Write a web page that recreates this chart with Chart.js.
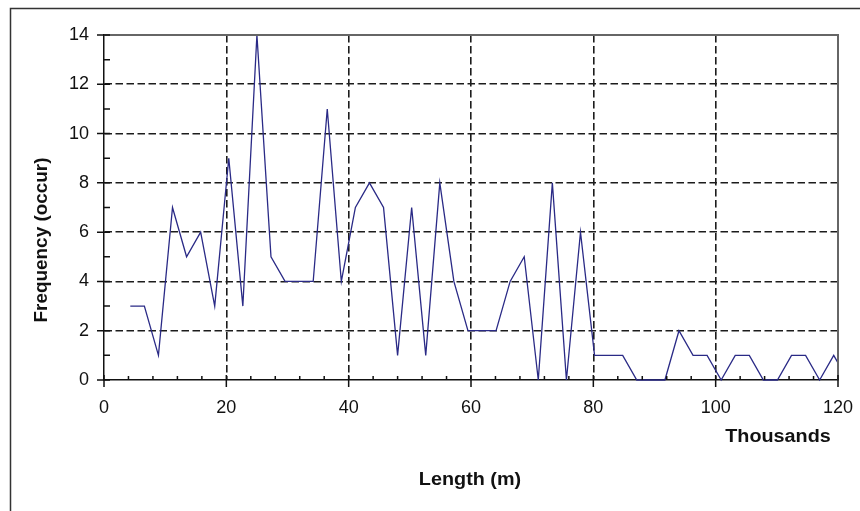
<!DOCTYPE html>
<html>
<head>
<meta charset="utf-8">
<script src="https://cdn.jsdelivr.net/npm/chart.js@4/dist/chart.umd.min.js"></script>
<style>
html,body{margin:0;padding:0;background:#fff;}
#wrap{position:relative;width:860px;height:511px;overflow:hidden;background:#fff;}
canvas{display:block;}
</style>
</head>
<body>
<div id="wrap"><canvas id="c" width="860" height="511"></canvas></div>
<script>
// Length in thousands of metres (bin positions)
const lengthThousands = [4.3, 6.6, 8.9, 11.2, 13.5, 15.8, 18.1, 20.4, 22.7, 25.0,
  27.3, 29.6, 31.9, 34.2, 36.5, 38.8, 41.1, 43.4, 45.7, 48.0,
  50.3, 52.6, 54.9, 57.2, 59.5, 61.8, 64.1, 66.4, 68.7, 71.0,
  73.3, 75.6, 77.9, 80.2, 82.5, 84.8, 87.1, 89.4, 91.7, 94.0,
  96.3, 98.6, 100.9, 103.2, 105.5, 107.8, 110.1, 112.4, 114.7, 117.0,
  119.3, 121.6];
// Frequency (occurrences)
const frequency = [3, 3, 1, 7, 5, 6, 3, 9, 3, 14,
  5, 4, 4, 4, 11, 4, 7, 8, 7, 1,
  7, 1, 8, 4, 2, 2, 2, 4, 5, 0,
  8, 0, 6, 1, 1, 1, 0, 0, 0, 2,
  1, 1, 0, 1, 1, 0, 0, 1, 1, 0,
  1, 0];
const xTickValues = [0, 20, 40, 60, 80, 100, 120];
const yTickValues = [0, 2, 4, 6, 8, 10, 12, 14];
const xTitle = 'Length (m)';
const xUnitLabel = 'Thousands';
const yTitle = 'Frequency (occur)';

const FONT = '"Liberation Sans", Arial, sans-serif';

const points = lengthThousands.map((x, i) => ({x: x, y: frequency[i]}));

const decorPlugin = {
  id: 'decor',
  beforeDraw(chart) {
    const ctx = chart.ctx;
    ctx.save();
    ctx.fillStyle = '#fff';
    ctx.fillRect(0, 0, chart.width, chart.height);
    ctx.strokeStyle = '#333';
    ctx.lineWidth = 1.5;
    ctx.strokeRect(10.5, 8.5, 1000, 1000);
    ctx.restore();
  },
  afterDraw(chart) {
    const ctx = chart.ctx;
    const xs = chart.scales.x, ys = chart.scales.y;
    const a = chart.chartArea;
    ctx.save();
    // top and right frame of plot area
    ctx.strokeStyle = '#666';
    ctx.lineWidth = 2;
    ctx.beginPath();
    ctx.moveTo(a.left, a.top);
    ctx.lineTo(a.right, a.top);
    ctx.lineTo(a.right, a.bottom);
    ctx.stroke();
    // ticks
    ctx.strokeStyle = '#111';
    ctx.lineWidth = 1.5;
    ctx.beginPath();
    for (let v = 0; v <= 14; v += 1) {
      const y = ys.getPixelForValue(v);
      if (v % 2 === 0) { ctx.moveTo(a.left - 7, y); ctx.lineTo(a.left + 6, y); }
      else { ctx.moveTo(a.left, y); ctx.lineTo(a.left + 6, y); }
    }
    for (let v = 0; v <= 120; v += 4) {
      const x = xs.getPixelForValue(v);
      if (v % 20 === 0) { ctx.moveTo(x, a.bottom + 7); ctx.lineTo(x, a.bottom - 5); }
      else { ctx.moveTo(x, a.bottom); ctx.lineTo(x, a.bottom - 4); }
    }
    ctx.stroke();
    // titles
    ctx.fillStyle = '#111';
    ctx.font = 'bold 18px ' + FONT;
    ctx.textAlign = 'center';
    ctx.textBaseline = 'middle';
    const stretch = (txt, x, y) => {
      ctx.save(); ctx.translate(x, y); ctx.scale(1.1, 1); ctx.fillText(txt, 0, 0); ctx.restore();
    };
    stretch(xUnitLabel, 778, 437);
    stretch(xTitle, 470, 480);
    ctx.save();
    ctx.translate(42, 240);
    ctx.rotate(-Math.PI / 2);
    ctx.scale(1.05, 1);
    ctx.fillText(yTitle, 0, 0);
    ctx.restore();
    ctx.restore();
  }
};

const gridColor = (edgeVals) => (c) => {
  const v = c.tick ? c.tick.value : null;
  return edgeVals.includes(v) ? 'rgba(0,0,0,0)' : '#1c1c1c';
};

new Chart(document.getElementById('c'), {
  type: 'line',
  data: {
    datasets: [{
      data: points,
      borderColor: '#2a2a86',
      borderWidth: 1.3,
      pointRadius: 0,
      tension: 0,
      fill: false,
      clip: {left: 0, top: 2, right: 0, bottom: 2}
    }]
  },
  options: {
    responsive: false,
    animation: false,
    events: [],
    layout: {padding: {left: 0, right: 22, top: 35, bottom: 0}},
    plugins: {legend: {display: false}, tooltip: {enabled: false}, title: {display: false}},
    scales: {
      x: {
        type: 'linear',
        min: 0, max: 120,
        afterBuildTicks: (s) => { s.ticks = xTickValues.map(v => ({value: v})); },
        afterFit: (s) => { s.height = 131; s.paddingLeft = 0; s.paddingRight = 0; },
        ticks: {color: '#111', font: {size: 18, family: FONT}, padding: 17, maxRotation: 0, autoSkip: false},
        grid: {drawTicks: false, color: gridColor([0, 120]), lineWidth: 1.6},
        border: {display: true, color: '#111', width: 1.5, dash: [7.5, 3.5]}
      },
      y: {
        type: 'linear',
        min: 0, max: 14,
        afterBuildTicks: (s) => { s.ticks = yTickValues.map(v => ({value: v})); },
        afterFit: (s) => { s.width = 104; s.paddingTop = 0; s.paddingBottom = 0; },
        ticks: {color: '#111', font: {size: 18, family: FONT}, padding: 15, autoSkip: false},
        grid: {drawTicks: false, color: gridColor([0, 14]), lineWidth: 1.6},
        border: {display: true, color: '#111', width: 1.5, dash: [7.5, 3.5]}
      }
    }
  },
  plugins: [decorPlugin]
});
</script>
</body>
</html>
